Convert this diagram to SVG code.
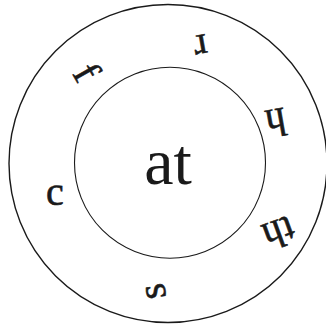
<svg xmlns="http://www.w3.org/2000/svg" width="326" height="325" viewBox="0 0 326 325">
<style>
.ring{fill:none;stroke:#1a1a1a}
.l{font-family:'Liberation Serif','Times New Roman',serif;font-size:40px;fill:#1a1a1a;stroke:#1a1a1a;stroke-width:0.6;text-anchor:middle}
.big{font-family:'Liberation Serif','Times New Roman',serif;font-size:66px;fill:#1a1a1a;text-anchor:middle}
</style>
<rect width="326" height="325" fill="#fff"/>
<g id="outer"><circle class="ring" cx="168" cy="163.5" r="159" stroke-width="1.4"/></g>
<g id="inner"><circle class="ring" cx="170" cy="162.7" r="95.5" stroke-width="1.1"/><text class="big" x="168" y="184">at</text></g>
<g id="letters">
<g id="c"><text class="l" x="55" y="205" transform="rotate(0 55 197)">c</text></g>
<g id="f"><text class="l" x="82" y="83" transform="rotate(60 82 75)">f</text></g>
<g id="r"><text class="l" x="200" y="51" transform="rotate(170 200 43)">r</text></g>
<g id="h"><text class="l" x="275" y="125" transform="rotate(170 275 117)">h</text></g>
<g id="th"><text class="l" x="277" y="236" transform="rotate(160 277 228)">th</text></g>
<g id="s"><text class="l" x="157" y="299" transform="rotate(-100 157 291)">s</text></g>
</g>
</svg>
